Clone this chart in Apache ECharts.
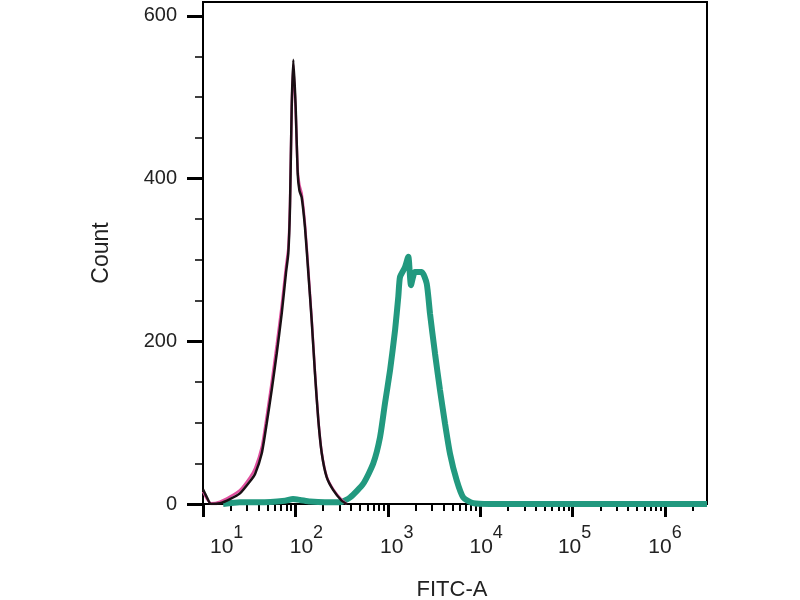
<!DOCTYPE html>
<html>
<head>
<meta charset="utf-8">
<script src="https://cdn.jsdelivr.net/npm/echarts@6/dist/echarts.min.js"></script>
<style>
html,body{margin:0;padding:0;background:#fff;}
#chart{width:800px;height:600px;}
</style>
</head>
<body>
<div id="chart"></div>
<script>
// Data (FITC-A intensity, cell count)
var blackX = [10, 11.05, 12.2, 15.3, 19.6, 25.1, 32.3, 36.6, 43.2, 48.9, 55.4, 62.8, 71.1, 79.1, 83.8, 87.4, 91.2, 94.9, 100.7, 105.9, 110.7, 116.9, 127, 138, 150, 163, 177, 193, 218, 257, 317, 359];
var blackY = [18, 8, 0, 1, 6, 13, 28, 37, 62, 99, 140, 185, 234, 284, 308, 365, 488, 546, 488, 406, 385, 377, 340, 284, 226, 160, 103, 62, 33, 17, 4, 0];
var pinkX = [10, 11.05, 12.2, 15.3, 19.6, 25.1, 32.3, 36.6, 43.2, 48.9, 55.4, 62.8, 71.1, 79.1, 83.8, 87.4, 91.2, 94.9, 100.7, 105.9, 110.7, 116.9, 127, 138, 150, 163, 177, 193, 218, 257, 317, 359];
var pinkY = [15, 6, 1, 3, 9, 17, 33, 44, 70, 108, 150, 196, 244, 292, 315, 370, 485, 540, 482, 410, 392, 382, 344, 288, 228, 162, 104, 63, 34, 18, 5, 0];
var tealX = [16.5, 25.1, 41.4, 77.1, 94.2, 112, 144, 209, 303, 390, 543, 697, 824, 933, 1057, 1197, 1300, 1356, 1536, 1668, 1783, 1969, 2328, 2637, 2863, 3243, 3674, 4161, 4713, 5570, 6565, 8417, 12770, 2850000];
var tealY = [0, 2, 2, 4, 6, 5, 3, 2, 2, 8, 25, 50, 82, 124, 164, 213, 255, 279, 291, 304, 269, 285, 285, 271, 234, 185, 140, 99, 62, 29, 8, 1, 0, 0];
var xMajorTicks = [10, 100, 1000, 10000, 100000, 1000000];
var xMinorTicks = [];
xMajorTicks.forEach(function (d) {
  for (var k = 2; k <= 9; k++) { if (k * d <= 2850000) xMinorTicks.push(k * d); }
});
var yTicks = [0, 200, 400, 600];
var xRange = [10, 2850000];
var yRange = [0, 617];

function pairs(xs, ys) { return xs.map(function (x, i) { return [x, ys[i]]; }); }

// small rightward nudges of the tick labels, as drawn in the reference
var labelNudge = { 1: 7, 2: 22, 3: 18, 4: 12, 5: 4, 6: 0 };

var chart = echarts.init(document.getElementById('chart'));
var baseX = {
  type: 'log', logBase: 10, min: xRange[0], max: xRange[1],
  splitLine: { show: false }
};
chart.setOption({
  animation: false,
  grid: { left: 203, top: 2, right: 93, bottom: 96, containLabel: false, outerBoundsMode: 'none',
          show: true, borderColor: '#000', borderWidth: 2, backgroundColor: 'transparent' },
  xAxis: [
    Object.assign({}, baseX, {
      position: 'bottom',
      name: 'FITC-A', nameLocation: 'middle', nameGap: 75,
      nameTextStyle: { fontFamily: 'Liberation Sans', fontSize: 22, color: '#222', padding: [0, 6, 0, 0] },
      axisLine: { show: true, lineStyle: { color: '#000', width: 2 } },
      axisTick: { show: true, length: 13, lineStyle: { color: '#000', width: 3 }, customValues: xMajorTicks },
      axisLabel: {
        show: true, margin: 20, customValues: xMajorTicks, alignMinLabel: 'left',
        formatter: function (v) {
          var e = Math.round(Math.log10(v));
          var n = labelNudge[e] || 0;
          return (n ? '{p' + n + '|}' : '') + '{b|10}{s|' + e + '}';
        },
        rich: {
          b: { fontFamily: 'Liberation Sans', fontSize: 21, color: '#222' },
          s: { fontFamily: 'Liberation Sans', fontSize: 18, color: '#222', padding: [0, 0, 28, 0] },
          p7: { width: 7 }, p22: { width: 22 }, p18: { width: 18 }, p12: { width: 12 }, p4: { width: 4 }
        }
      }
    }),
    Object.assign({}, baseX, {
      position: 'bottom',
      axisLine: { show: false },
      axisTick: { show: true, length: 7, lineStyle: { color: '#000', width: 2 }, customValues: xMinorTicks },
      axisLabel: { show: false }
    })
  ],
  yAxis: {
    type: 'value', min: yRange[0], max: yRange[1], interval: 200,
    name: 'Count', nameLocation: 'middle', nameGap: 90, nameRotate: 90,
    nameTextStyle: { fontFamily: 'Liberation Sans', fontSize: 23, color: '#222' },
    splitLine: { show: false },
    axisLine: { show: true, lineStyle: { color: '#000', width: 2 } },
    axisTick: { show: true, length: 16, lineStyle: { color: '#000', width: 3 }, customValues: yTicks },
    minorTick: { show: true, splitNumber: 4, length: 8, lineStyle: { color: '#000', width: 1.5 } },
    axisLabel: { margin: 26, fontFamily: 'Liberation Sans', fontSize: 20, color: '#222', customValues: yTicks }
  },
  series: [
    { name: 'teal', type: 'line', xAxisIndex: 0, data: pairs(tealX, tealY), showSymbol: false, smooth: 0.2,
      lineStyle: { color: '#22997f', width: 6 }, z: 2 },
    { name: 'pink', type: 'line', xAxisIndex: 0, data: pairs(pinkX, pinkY), showSymbol: false, smooth: 0.2,
      lineStyle: { color: '#e0509f', width: 2.5 }, z: 3 },
    { name: 'black', type: 'line', xAxisIndex: 0, data: pairs(blackX, blackY), showSymbol: false, smooth: 0.2,
      lineStyle: { color: '#1a0f14', width: 2.5 }, z: 4 }
  ]
});
</script>
</body>
</html>
